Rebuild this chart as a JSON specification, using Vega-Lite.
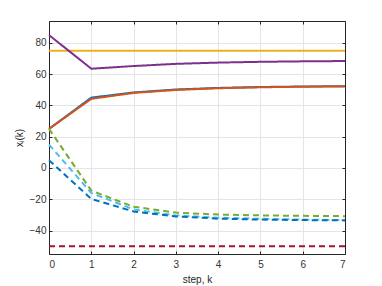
{
  "$schema": "https://vega.github.io/schema/vega-lite/v6.json",
  "autosize": "none",
  "width": 296,
  "height": 233,
  "padding": {"left": 49, "top": 21, "right": 37, "bottom": 32},
  "background": "white",
  "config": {
    "view": {"stroke": null},
    "font": "Liberation Sans",
    "axis": {
      "gridColor": "#e5e5e5",
      "gridOpacity": 1,
      "domainColor": "#262626",
      "tickColor": "#262626",
      "labelColor": "#333333",
      "labelFont": "Liberation Sans",
      "labelFontSize": 10,
      "titleFont": "Liberation Sans",
      "titleFontSize": 10,
      "titleFontWeight": "normal",
      "titleColor": "#262626"
    }
  },
  "data": {"values": [
    {"k":0,"v":25,"s":"s1"},{"k":1,"v":45,"s":"s1"},{"k":2,"v":48.3,"s":"s1"},{"k":3,"v":50.2,"s":"s1"},{"k":4,"v":51.2,"s":"s1"},{"k":5,"v":51.8,"s":"s1"},{"k":6,"v":52.1,"s":"s1"},{"k":7,"v":52.3,"s":"s1"},
    {"k":0,"v":25,"s":"s2"},{"k":1,"v":44.2,"s":"s2"},{"k":2,"v":48,"s":"s2"},{"k":3,"v":49.9,"s":"s2"},{"k":4,"v":51,"s":"s2"},{"k":5,"v":51.6,"s":"s2"},{"k":6,"v":52,"s":"s2"},{"k":7,"v":52.2,"s":"s2"},
    {"k":0,"v":75,"s":"s3"},{"k":7,"v":75,"s":"s3"},
    {"k":0,"v":85,"s":"s4"},{"k":1,"v":63.5,"s":"s4"},{"k":2,"v":65.2,"s":"s4"},{"k":3,"v":66.6,"s":"s4"},{"k":4,"v":67.4,"s":"s4"},{"k":5,"v":67.9,"s":"s4"},{"k":6,"v":68.2,"s":"s4"},{"k":7,"v":68.4,"s":"s4"},
    {"k":0,"v":25,"s":"s5"},{"k":1,"v":-14.5,"s":"s5"},{"k":2,"v":-24.8,"s":"s5"},{"k":3,"v":-28.5,"s":"s5"},{"k":4,"v":-29.8,"s":"s5"},{"k":5,"v":-30.3,"s":"s5"},{"k":6,"v":-30.6,"s":"s5"},{"k":7,"v":-30.8,"s":"s5"},
    {"k":0,"v":15,"s":"s6"},{"k":1,"v":-16,"s":"s6"},{"k":2,"v":-26.5,"s":"s6"},{"k":3,"v":-30.3,"s":"s6"},{"k":4,"v":-31.8,"s":"s6"},{"k":5,"v":-32.5,"s":"s6"},{"k":6,"v":-33,"s":"s6"},{"k":7,"v":-33.3,"s":"s6"},
    {"k":0,"v":5,"s":"s7"},{"k":1,"v":-19.8,"s":"s7"},{"k":2,"v":-27.8,"s":"s7"},{"k":3,"v":-31,"s":"s7"},{"k":4,"v":-32.4,"s":"s7"},{"k":5,"v":-33,"s":"s7"},{"k":6,"v":-33.3,"s":"s7"},{"k":7,"v":-33.5,"s":"s7"},
    {"k":0,"v":-50,"s":"s8"},{"k":7,"v":-50,"s":"s8"}
  ]},
  "resolve": {"axis": {"x": "independent", "y": "independent"}},
  "layer": [
    {
      "mark": {"type": "line", "strokeWidth": 2},
      "encoding": {
        "x": {"field": "k", "type": "quantitative",
              "scale": {"domain": [0, 7], "nice": false, "zero": false},
              "axis": {"title": "step, k", "values": [0,1,2,3,4,5,6,7], "tickSize": -3, "labelPadding": 8, "titlePadding": 5, "grid": true, "domain": true}},
        "y": {"field": "v", "type": "quantitative",
              "scale": {"domain": [-55, 94], "nice": false, "zero": false},
              "axis": {"title": "xᵢ(k)", "values": [-40,-20,0,20,40,60,80], "tickSize": -3, "labelPadding": 6, "titlePadding": 5, "grid": true}},
        "color": {"field": "s", "type": "nominal", "legend": null,
                  "scale": {"domain": ["s1","s2","s3","s4","s5","s6","s7","s8"],
                            "range": ["#0072BD","#D95319","#EDB120","#7E2F8E","#77AC30","#4DBEEE","#0072BD","#A2142F"]}},
        "strokeDash": {"field": "s", "type": "nominal", "legend": null,
                  "scale": {"domain": ["s1","s2","s3","s4","s5","s6","s7","s8"],
                            "range": [[1,0],[1,0],[1,0],[1,0],[6,4],[6,4],[6,4],[6,4]]}}
      }
    },
    {
      "mark": {"type": "line", "opacity": 0},
      "encoding": {
        "x": {"field": "k", "type": "quantitative",
              "axis": {"orient": "top", "title": null, "labels": false, "grid": false, "values": [0,1,2,3,4,5,6,7], "tickSize": -3}},
        "y": {"field": "v", "type": "quantitative",
              "axis": {"orient": "right", "title": null, "labels": false, "grid": false, "values": [-40,-20,0,20,40,60,80], "tickSize": -3}}
      }
    }
  ]
}
